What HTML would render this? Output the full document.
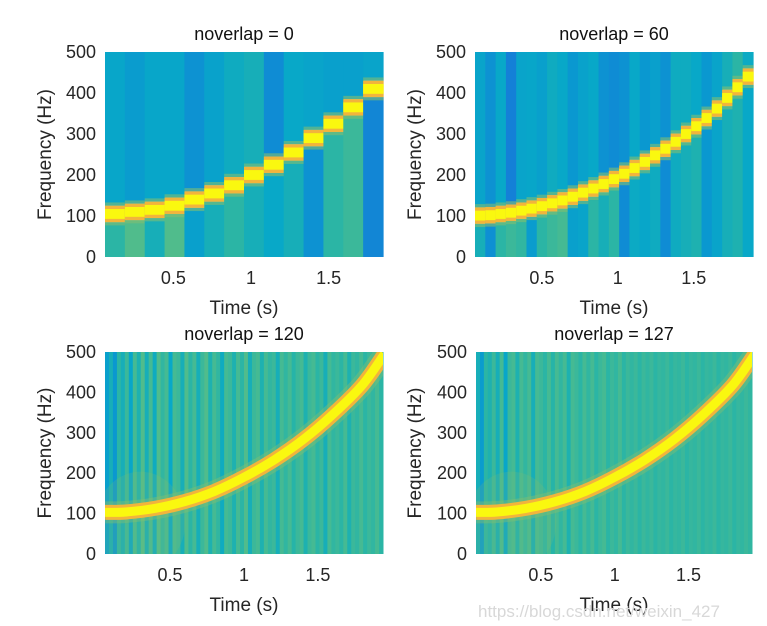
<!DOCTYPE html>
<html><head><meta charset="utf-8"><style>
body{margin:0;background:#fff}
svg{display:block;font-family:"Liberation Sans",sans-serif}
</style></head><body>
<svg id="fig" width="767" height="626" viewBox="0 0 767 626"></svg>
<script>
// ---- data ----
const tlCenters=[105,110,115,125,140,155,175,200,225,255,290,325,365,410];
const tlAbove=[0.45,0.40,0.45,0.45,0.36,0.43,0.48,0.50,0.34,0.46,0.44,0.42,0.42,0.44];
const tlBelow=[0.55,0.62,0.50,0.62,0.42,0.50,0.55,0.50,0.46,0.50,0.36,0.55,0.58,0.32];
const trCenters=[101,102,105,108,113,118,124,131,138,147,157,167,178,190,203,217,232,248,264,281,300,319,339,362,388,414,440];
const trAbove=[0.44,0.36,0.46,0.30,0.44,0.45,0.42,0.48,0.46,0.38,0.43,0.46,0.36,0.34,0.36,0.46,0.38,0.42,0.36,0.48,0.48,0.46,0.38,0.44,0.50,0.55,0.47];
const trBelow=[0.50,0.35,0.55,0.58,0.56,0.40,0.55,0.58,0.60,0.42,0.44,0.55,0.50,0.55,0.34,0.47,0.45,0.48,0.34,0.48,0.50,0.52,0.38,0.44,0.50,0.52,0.46];
const curveTimes=[0.06,0.2,0.4,0.6,0.8,1.0,1.2,1.4,1.6,1.8,1.95];
const curveFreqs=[103,104,113,130,155,190,232,283,345,418,495];
const stripesA=[0.42,0.5,0.38,0.55,0.5,0.58,0.45,0.6,0.52,0.62,0.5,0.6,0.48,0.62,0.56,0.6,0.46,0.6,0.58,0.5,0.62,0.55,0.6,0.5,0.58,0.62,0.52,0.6,0.56,0.48,0.6,0.58,0.52,0.6,0.55,0.62,0.5,0.58,0.6,0.52,0.6,0.56,0.58,0.5,0.6,0.56,0.6,0.54,0.58,0.6,0.52,0.58,0.6,0.55,0.58,0.5,0.6,0.56,0.58,0.55,0.6,0.52,0.58,0.56,0.6,0.55,0.58,0.56,0.6,0.55];
const stripesB=[0.5,0.4,0.55,0.52,0.58,0.5,0.6,0.45,0.58,0.6,0.52,0.6,0.56,0.6,0.5,0.6,0.58,0.55,0.6,0.54,0.6,0.56,0.6,0.52,0.6,0.58,0.55,0.6,0.56,0.6,0.55,0.58,0.6,0.55,0.58,0.56,0.6,0.55,0.58,0.56,0.58,0.55,0.58,0.56,0.58,0.55,0.57,0.56,0.58,0.55,0.57,0.56,0.58,0.55,0.57,0.56,0.58,0.55,0.57,0.56,0.58,0.55,0.57,0.56,0.58,0.55,0.57,0.56,0.58,0.56];
const yTicks=[0,100,200,300,400,500];
const xTicks=[0.5,1,1.5];
const titles=["noverlap = 0","noverlap = 60","noverlap = 120","noverlap = 127"];

const NS="http://www.w3.org/2000/svg";
const svg=document.getElementById('fig');
function mk(tag,attrs,parent){const e=document.createElementNS(NS,tag);for(const k in attrs)e.setAttribute(k,attrs[k]);(parent||svg).appendChild(e);return e;}
const stops=[[0.2,[25,105,225]],[0.3,[20,128,215]],[0.38,[10,152,208]],[0.46,[8,168,200]],[0.54,[38,180,168]],[0.62,[80,188,140]],[0.72,[160,192,95]],[0.85,[245,185,60]],[1,[250,248,15]]];
function cmap(v){if(v<=stops[0][0])return `rgb(${stops[0][1]})`;for(let i=1;i<stops.length;i++){if(v<=stops[i][0]){const a=stops[i-1],b=stops[i],f=(v-a[0])/(b[0]-a[0]);return `rgb(${a[1].map((c,j)=>Math.round(c+(b[1][j]-c)*f)).join(',')})`;}}return `rgb(${stops[stops.length-1][1]})`;}

const panels=[
 {x0:105,x1:383,y0:52,y1:257,t0:0.06,t1:1.85,ylab:45,txt:96},
 {x0:475,x1:753,y0:52,y1:257,t0:0.06,t1:1.89,ylab:415,txt:466},
 {x0:105,x1:383,y0:352,y1:554,t0:0.06,t1:1.94,ylab:45,txt:96},
 {x0:476,x1:752,y0:352,y1:554,t0:0.06,t1:1.93,ylab:415,txt:467}
];
panels.forEach((p,pi)=>{
 const g=mk('g',{});
 
 
 const X=t=>p.x0+(t-p.t0)/(p.t1-p.t0)*(p.x1-p.x0);
 const Y=f=>p.y1-f/500*(p.y1-p.y0);
 if(pi<2){
  const cen=pi==0?tlCenters:trCenters, ab=pi==0?tlAbove:trAbove, be=pi==0?tlBelow:trBelow;
  const n=cen.length, w=(p.x1-p.x0)/n;
  for(let i=0;i<n;i++){
   const x=p.x0+i*w, c=cen[i];
   const r1=mk('rect',{x:x,y:p.y0,width:w+0.6,height:Y(c+20)-p.y0,fill:cmap(ab[i])},g);
   
   const r2=mk('rect',{x:x,y:Y(c-20),width:w+0.6,height:p.y1-Y(c-20),fill:cmap(be[i])},g);
   
   const r0=mk('rect',{x:x,y:Y(c+28),width:w+0.6,height:Y(c-28)-Y(c+28),fill:cmap(0.68),opacity:0.6},g);
   
   const r3=mk('rect',{x:x,y:Y(c+20),width:w+0.6,height:Y(c-20)-Y(c+20),fill:'#f2b43c'},g);
   
   const r4=mk('rect',{x:x,y:Y(c+12),width:w+0.6,height:Y(c-12)-Y(c+12),fill:cmap(1)},g);
   
  }
 } else {
  const st=pi==2?stripesA:stripesB; const n=st.length, w=(p.x1-p.x0)/n;
  for(let i=0;i<n;i++){
   const r=mk('rect',{x:p.x0+i*w,y:p.y0,width:w+0.5,height:p.y1-p.y0,fill:cmap(st[i])},g);
   
  }
  const cid='clip'+pi;
  const cp=mk('clipPath',{id:cid},g);mk('rect',{x:p.x0,y:p.y0,width:p.x1-p.x0,height:p.y1-p.y0},cp);
  const pts=curveTimes.map((t,i)=>[X(t),Y(curveFreqs[i])]);
  let d='M'+pts[0][0].toFixed(1)+','+pts[0][1].toFixed(1);
  for(let i=0;i<pts.length-1;i++){
   const p0=pts[Math.max(0,i-1)],p1=pts[i],p2=pts[i+1],p3=pts[Math.min(pts.length-1,i+2)];
   const c1=[p1[0]+(p2[0]-p0[0])/6,p1[1]+(p2[1]-p0[1])/6],c2=[p2[0]-(p3[0]-p1[0])/6,p2[1]-(p3[1]-p1[1])/6];
   d+=` C${c1[0].toFixed(1)},${c1[1].toFixed(1)} ${c2[0].toFixed(1)},${c2[1].toFixed(1)} ${p2[0].toFixed(1)},${p2[1].toFixed(1)}`;
  }
  const gl=mk('ellipse',{cx:X(0.3),cy:Y(80),rx:45,ry:50,fill:cmap(0.7),opacity:0.18,'clip-path':`url(#${cid})`},g);
  
  const h=mk('path',{d:d,fill:'none',stroke:cmap(0.68),'stroke-width':22,opacity:0.45,'stroke-linecap':'butt','clip-path':`url(#${cid})`},g);
  
  const h2=mk('path',{d:d,fill:'none',stroke:'#f2b43c','stroke-width':15,'clip-path':`url(#${cid})`},g);
  
  const c=mk('path',{d:d,fill:'none',stroke:cmap(1),'stroke-width':9,'clip-path':`url(#${cid})`},g);
  
 }
 yTicks.forEach(v=>{const t=mk('text',{x:p.txt,y:Y(v)+6,'text-anchor':'end','font-size':18,fill:'#262626'},g);t.textContent=v;
  });
 xTicks.forEach(v=>{const t=mk('text',{x:X(v),y:p.y1+27,'text-anchor':'middle','font-size':18,fill:'#262626'},g);t.textContent=v;
  });
 const mid=(p.x0+p.x1)/2;
 const tt=mk('text',{x:mid,y:p.y0-12,'text-anchor':'middle','font-size':18,fill:'#111'},g);tt.textContent=titles[pi];
 
 const xl=mk('text',{x:mid,y:p.y1+57,'text-anchor':'middle','font-size':19,fill:'#262626'},g);xl.textContent='Time (s)';
 
 const cy=(p.y0+p.y1)/2;
 const yl=mk('text',{x:p.ylab,y:cy,'text-anchor':'middle','font-size':19,fill:'#262626',transform:`rotate(-90 ${p.ylab} ${cy}) translate(0 6)`},g);yl.textContent='Frequency (Hz)';
 
});
const wm=mk('text',{x:478,y:617,'font-size':17,fill:'#d8d8d8'});wm.textContent='https://blog.csdn.net/weixin_427';

</script>
</body></html>
